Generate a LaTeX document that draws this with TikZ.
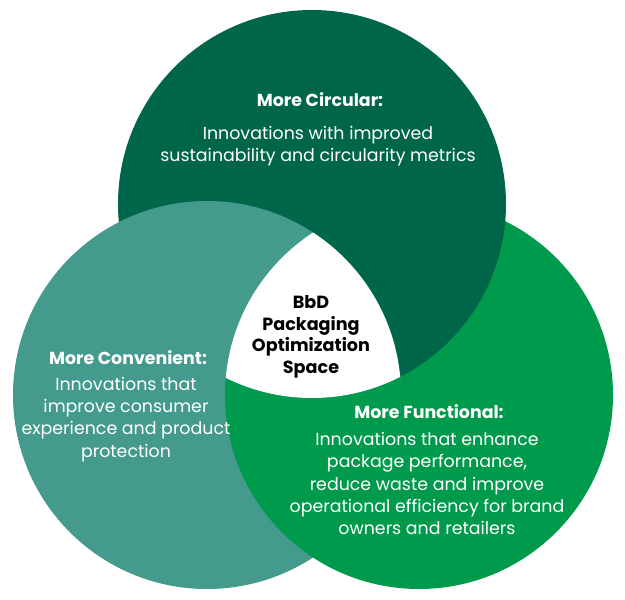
\documentclass[tikz,border=0pt]{standalone}
\usepackage{fontspec}
\setmainfont{Poppins}
\definecolor{circdark}{HTML}{00664A}
\definecolor{convteal}{HTML}{449A8C}
\definecolor{funcgreen}{HTML}{009A4C}
\tikzset{
  headtext/.style={text=white, font=\bfseries\fontsize{17.4}{22}\selectfont, align=center},
  bodytext/.style={text=white, font=\fontsize{17.4}{22.2}\selectfont, align=center},
  coretext/.style={text=black, font=\bfseries\fontsize{17.6}{21.5}\selectfont, align=center}
}
\begin{document}
\begin{tikzpicture}[x=1pt,y=-1pt]
\useasboundingbox (0,0) rectangle (625,600);
% Circles
\fill[funcgreen] (419,395) circle (194pt);
\fill[circdark] (312,204) circle (194pt);
\fill[convteal] (207,395) circle (194pt);
% Left over right, centre left white
\begin{scope}
  \clip (207,395) circle (194pt);
  \fill[funcgreen] (419,395) circle (194pt);
  \clip (312,204) circle (194pt);
  \fill[white] (419,395) circle (194pt);
\end{scope}
% Top circle
\node[headtext] (circhead) at (320,100) {More Circular:};
\node[bodytext] (circbody) at (318,146.5) {Innovations with improved\\sustainability and circularity metrics};
% Centre
\node[coretext] (core) at (311,337) {BbD\\Packaging\\Optimization\\Space};
% Left circle
\node[headtext] (convhead) at (128,358) {More Convenient:};
\node[bodytext] (convbody) at (126,419.5) {Innovations that\\improve consumer\\experience and product\\protection};
% Right circle
\node[headtext] (funchead) at (429,412) {More Functional:};
\node[bodytext] (funcbody) at (427,483.5) {Innovations that enhance\\package performance,\\reduce waste and improve\\operational efficiency for brand\\owners and retailers};
\end{tikzpicture}
\end{document}
